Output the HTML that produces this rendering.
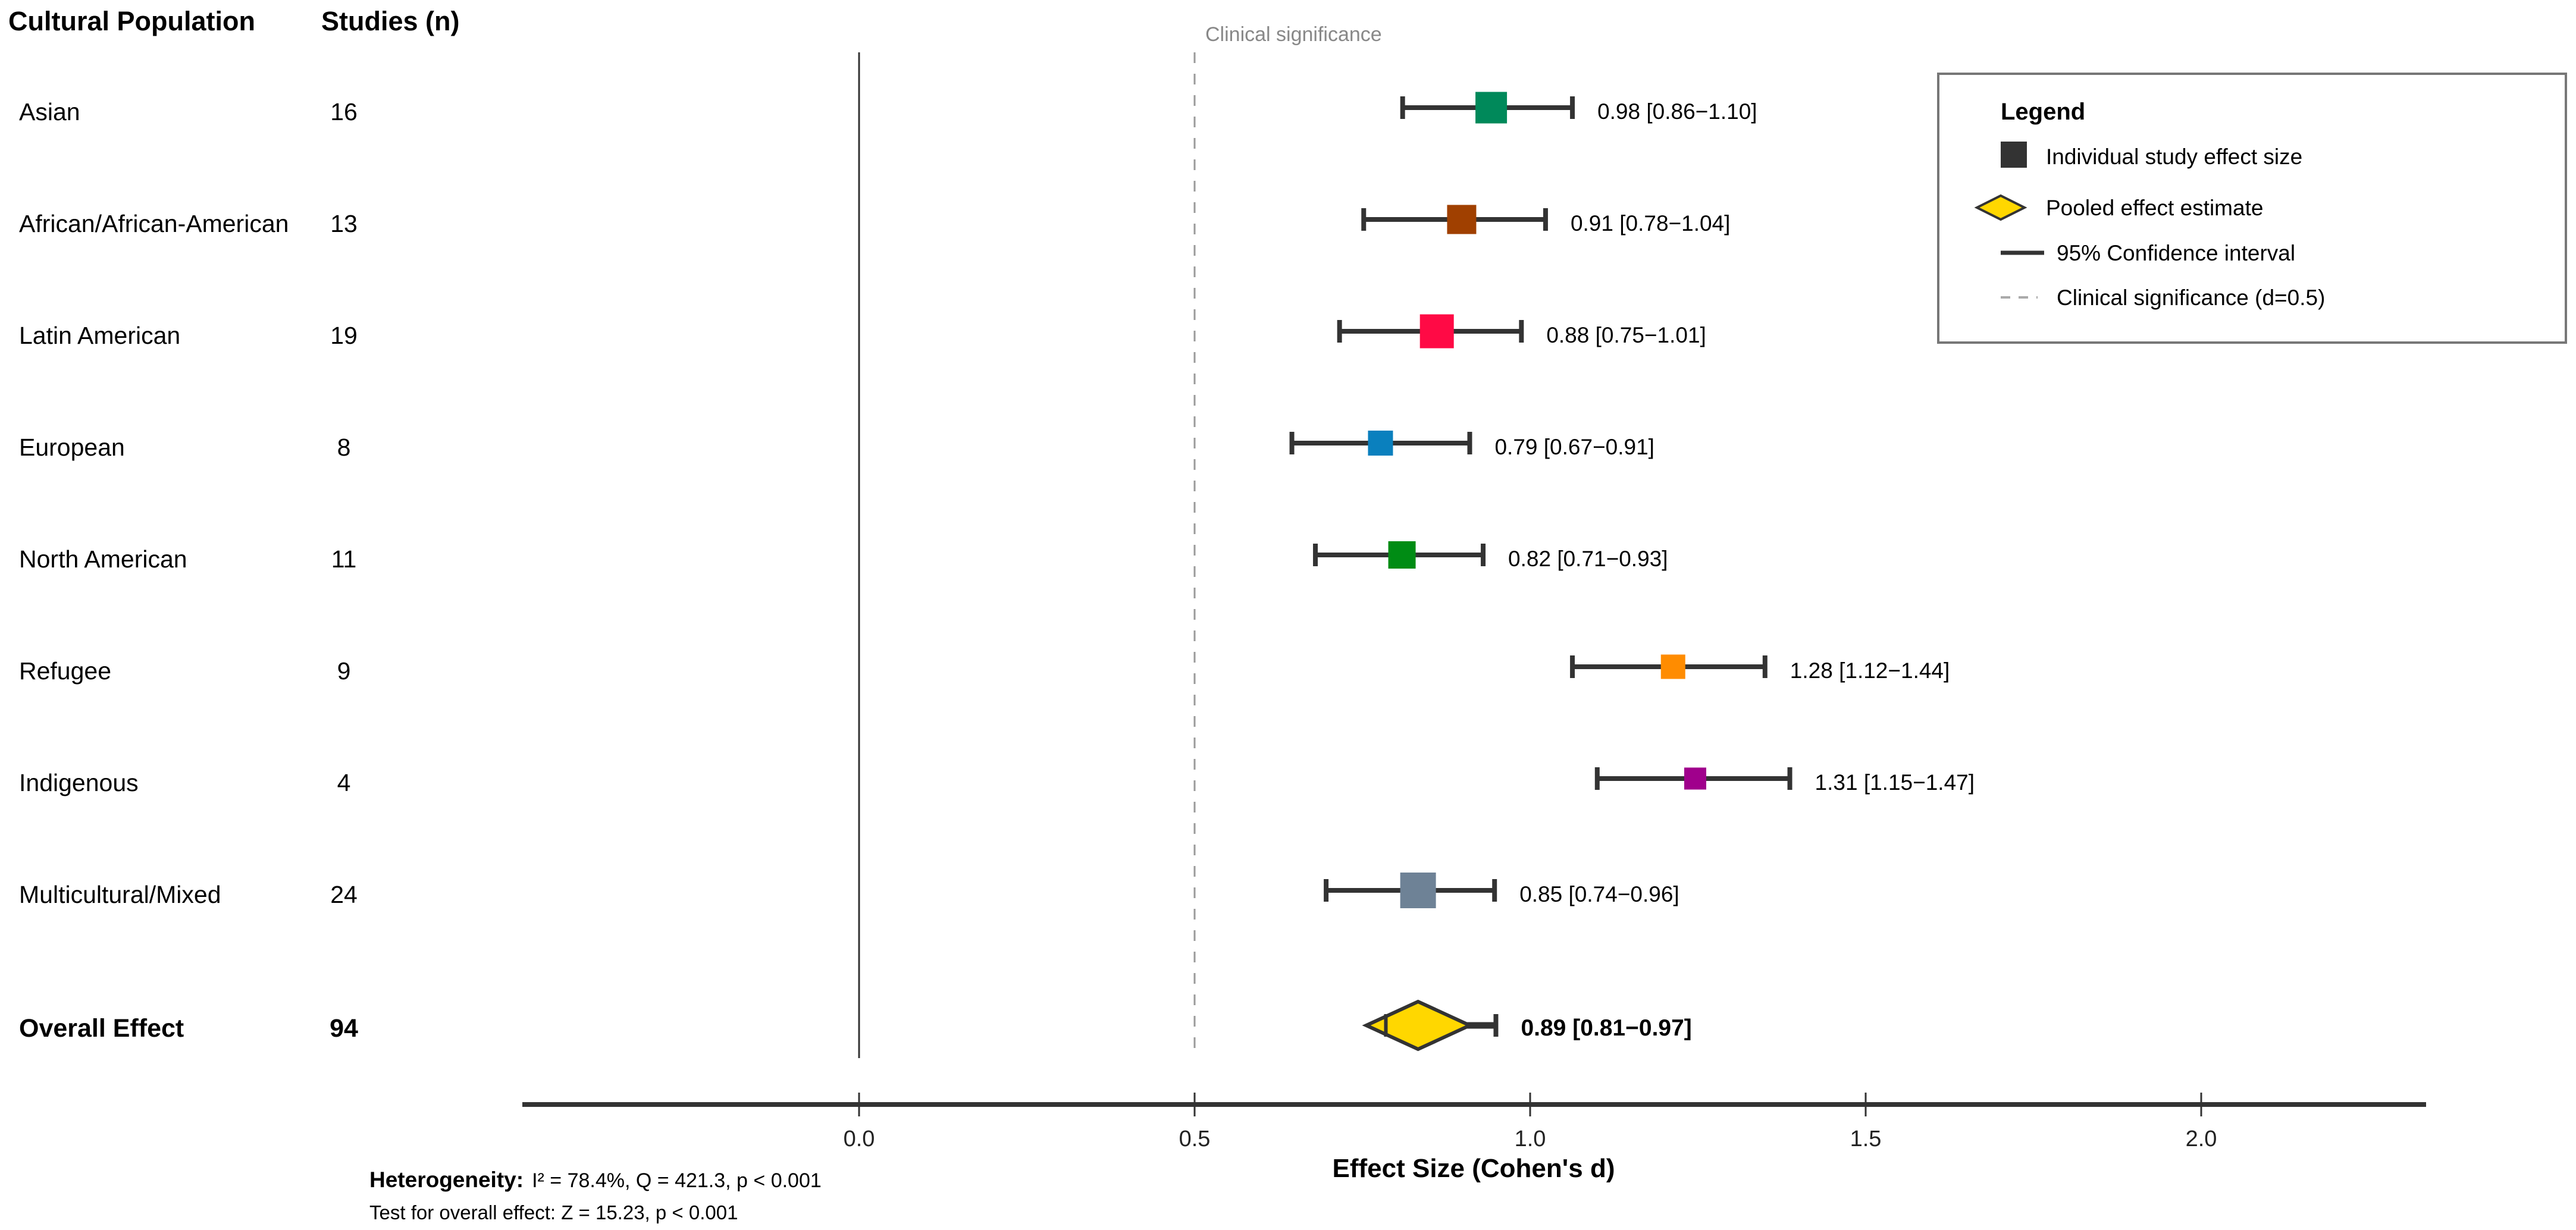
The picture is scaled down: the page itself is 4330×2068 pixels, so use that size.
<!DOCTYPE html>
<html><head><meta charset="utf-8"><style>
html,body{margin:0;padding:0;background:#fff;}
svg{display:block;font-family:"Liberation Sans",Arial,sans-serif;}
</style></head><body>
<svg id="chart" width="4330" height="2068" viewBox="0 0 4330 2068" xmlns="http://www.w3.org/2000/svg"></svg>
<script>
const categories = ["Asian","African/African-American","Latin American","European","North American","Refugee","Indigenous","Multicultural/Mixed"];
const studies = [16,13,19,8,11,9,4,24];
const estimates = [0.942,0.898,0.861,0.777,0.809,1.213,1.246,0.833];
const ciLow = [0.810,0.752,0.716,0.645,0.680,1.063,1.100,0.696];
const ciHigh = [1.063,1.023,0.987,0.910,0.930,1.350,1.387,0.947];
const valueLabels = ["0.98 [0.86\u22121.10]","0.91 [0.78\u22121.04]","0.88 [0.75\u22121.01]","0.79 [0.67\u22120.91]","0.82 [0.71\u22120.93]","1.28 [1.12\u22121.44]","1.31 [1.15\u22121.47]","0.85 [0.74\u22120.96]"];
const overallStudies = 94;
const overallEstimate = 0.833;
const overallLow = 0.785;
const overallHigh = 0.949;
const overallLabel = "0.89 [0.81\u22120.97]";
const xTicks = [0,0.5,1.0,1.5,2.0];
const xTickLabels = ["0.0","0.5","1.0","1.5","2.0"];
const clinicalThreshold = 0.5;

const colors = ["#00895A","#A04000","#FF0A45","#0A80BE","#008C14","#FF8C00","#A0008C","#6E8296"];
const boxSizes = [53,49,57,42,46,41,37,60];

const NS = "http://www.w3.org/2000/svg";
const svg = document.getElementById("chart");
function xs(v){ return 1444 + v*1128; }
function rowY(i){ return 181 + i*188; }
function mk(tag, attrs, parent){
  const e = document.createElementNS(NS, tag);
  for (const k in attrs) e.setAttribute(k, attrs[k]);
  (parent||svg).appendChild(e);
  return e;
}
function txt(s, attrs){ const t = mk("text", attrs); t.textContent = s; return t; }

// headers
let e;
e = txt("Cultural Population", {x:14, y:51, "font-size":45, "font-weight":"bold", fill:"#000"});


e = txt("Studies (n)", {x:540, y:51, "font-size":45, "font-weight":"bold", fill:"#000"});



// reference lines
e = mk("line", {x1:xs(0), x2:xs(0), y1:88, y2:1779, stroke:"#333", "stroke-width":3});


e = mk("line", {x1:xs(clinicalThreshold), x2:xs(clinicalThreshold), y1:88, y2:1780, stroke:"#9a9a9a", "stroke-width":3, "stroke-dasharray":"18 18"});


e = txt("Clinical significance", {x:xs(clinicalThreshold)+18, y:69, "font-size":34, fill:"#888"});



// rows
for (let i=0;i<categories.length;i++){
  const y = rowY(i);
  const g = mk("g", {});
  
  
  let t = mk("text", {x:32, y:y+21, "font-size":41, fill:"#000"}, g);
  t.textContent = categories[i];
  
  
  t = mk("text", {x:578, y:y+21, "font-size":41, fill:"#000", "text-anchor":"middle"}, g);
  t.textContent = studies[i];
  
  
  const x1 = xs(ciLow[i]), x2 = xs(ciHigh[i]);
  let l = mk("line", {x1:x1, x2:x2, y1:y, y2:y, stroke:"#333", "stroke-width":8}, g);
  
  
  l = mk("line", {x1:x1, x2:x1, y1:y-19, y2:y+19, stroke:"#333", "stroke-width":8}, g);
  
  
  l = mk("line", {x1:x2, x2:x2, y1:y-19, y2:y+19, stroke:"#333", "stroke-width":8}, g);
  
  
  const s = boxSizes[i];
  const r = mk("rect", {x:xs(estimates[i])-s/2, y:y-s/2, width:s, height:s, fill:colors[i]}, g);
  
  
  t = mk("text", {x:x2+42, y:y+19, "font-size":37, fill:"#000"}, g);
  t.textContent = valueLabels[i];
  
  
}

// overall
{
  const y = 1724;
  const g = mk("g", {});
  
  
  let t = mk("text", {x:32, y:y+19, "font-size":43, "font-weight":"bold", fill:"#000"}, g);
  t.textContent = "Overall Effect";
  
  
  t = mk("text", {x:578, y:y+19, "font-size":43, "font-weight":"bold", fill:"#000", "text-anchor":"middle"}, g);
  t.textContent = overallStudies;
  
  
  const x1 = xs(overallLow), x2 = xs(overallHigh);
  let l = mk("line", {x1:x1, x2:x2, y1:y, y2:y, stroke:"#333", "stroke-width":11}, g);
  
  
  l = mk("line", {x1:x2, x2:x2, y1:y-19, y2:y+19, stroke:"#333", "stroke-width":8}, g);
  
  
  const cx = xs(overallEstimate);
  const d = mk("polygon", {points:`${cx-87},${y} ${cx},${y-40} ${cx+87},${y} ${cx},${y+40}`, fill:"#FFD700", stroke:"#333", "stroke-width":6, "stroke-linejoin":"miter"}, g);
  
  
  l = mk("line", {x1:x1, x2:x1, y1:y-19, y2:y+19, stroke:"#333", "stroke-width":6}, g);
  
  
  t = mk("text", {x:x2+42, y:y+17, "font-size":39, "font-weight":"bold", fill:"#000"}, g);
  t.textContent = overallLabel;
  
  
}

// x axis
e = mk("line", {x1:878, x2:4078, y1:1857, y2:1857, stroke:"#333", "stroke-width":8});


for (let i=0;i<xTicks.length;i++){
  const x = xs(xTicks[i]);
  const tk = mk("line", {x1:x, x2:x, y1:1837, y2:1877, stroke:"#333", "stroke-width":3});
  
  
  const tl = txt(xTickLabels[i], {x:x, y:1927, "font-size":38, fill:"#222", "text-anchor":"middle"});
  
  
}
e = txt("Effect Size (Cohen's d)", {x:2477, y:1979, "font-size":44, "font-weight":"bold", fill:"#000", "text-anchor":"middle"});



// footnotes
e = txt("", {x:621, y:1996, "font-size":34, fill:"#000"});


{
  const a = mk("tspan", {"font-weight":"bold", "font-size":37}, e); a.textContent = "Heterogeneity:";
  const b = mk("tspan", {dx:14}, e); b.textContent = "I\u00B2 = 78.4%, Q = 421.3, p < 0.001";
}
e = txt("Test for overall effect: Z = 15.23, p < 0.001", {x:621, y:2050, "font-size":33, fill:"#000"});



// legend
const lg = mk("g", {});


e = mk("rect", {x:3258, y:124, width:3055, height:452, fill:"#fff", stroke:"#777", "stroke-width":4}, lg);
e.setAttribute('width', 1055);


e = mk("text", {x:3363, y:201, "font-size":40, "font-weight":"bold", fill:"#000"}, lg);
e.textContent = "Legend";


e = mk("rect", {x:3363, y:238, width:44, height:44, fill:"#333"}, lg);


e = mk("text", {x:3439, y:276, "font-size":37, fill:"#000"}, lg);
e.textContent = "Individual study effect size";


e = mk("polygon", {points:"3323,349 3363,329 3403,349 3363,369", fill:"#FFD700", stroke:"#333", "stroke-width":4}, lg);


e = mk("text", {x:3439, y:362, "font-size":37, fill:"#000"}, lg);
e.textContent = "Pooled effect estimate";


e = mk("line", {x1:3363, x2:3436, y1:425, y2:425, stroke:"#333", "stroke-width":7}, lg);


e = mk("text", {x:3457, y:438, "font-size":37, fill:"#000"}, lg);
e.textContent = "95% Confidence interval";


e = mk("line", {x1:3363, x2:3425, y1:500, y2:500, stroke:"#aaa", "stroke-width":4, "stroke-dasharray":"16 14"}, lg);


e = mk("text", {x:3457, y:513, "font-size":37, fill:"#000"}, lg);
e.textContent = "Clinical significance (d=0.5)";


</script>
</body></html>
